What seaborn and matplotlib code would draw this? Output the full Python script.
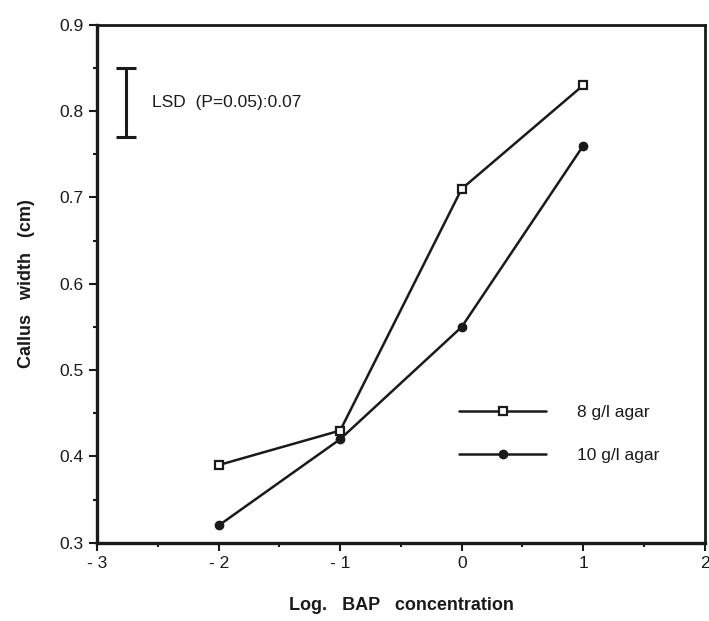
import matplotlib
matplotlib.use("Agg")
import matplotlib.pyplot as plt
import seaborn as sns
import pandas as pd
from matplotlib.lines import Line2D

# Callus width against log BAP concentration for two agar levels
log_bap = [-2, -1, 0, 1]
agar_8 = [0.39, 0.43, 0.71, 0.83]
agar_10 = [0.32, 0.42, 0.55, 0.76]
series_names = ["8 g/l agar", "10 g/l agar"]
x_ticks = [-3, -2, -1, 0, 1, 2]
x_tick_labels = ["- 3", "- 2", "- 1", "0", "1", "2"]
y_ticks = [0.3, 0.4, 0.5, 0.6, 0.7, 0.8, 0.9]
lsd_value = 0.07
lsd_center = 0.81

df = pd.DataFrame({
    "x": log_bap * 2,
    "y": agar_8 + agar_10,
    "series": [series_names[0]] * len(log_bap) + [series_names[1]] * len(log_bap),
})

sns.set_style("white")
plt.rcParams["font.family"] = ["Liberation Sans", "DejaVu Sans"]
ink = "#1a1a1a"

fig = plt.figure(figsize=(7.09, 6.21), dpi=100)
ax = fig.add_axes([0.137, 0.126, 0.857, 0.834])

sns.lineplot(
    data=df, x="x", y="y", hue="series", style="series",
    palette=[ink, ink], markers=["s", "o"], dashes=False,
    markersize=6, linewidth=1.8, ax=ax, legend=False,
)
# open squares for 8 g/l, filled circles for 10 g/l
ax.lines[0].set_markerfacecolor("white")
ax.lines[0].set_markeredgecolor(ink)
ax.lines[0].set_markeredgewidth(1.6)
ax.lines[1].set_markerfacecolor(ink)
ax.lines[1].set_markeredgecolor(ink)
ax.lines[1].set_markeredgewidth(1.0)

ax.set_xlim(-3, 2)
ax.set_ylim(0.3, 0.9)
ax.set_xticks(x_ticks)
ax.set_xticklabels(x_tick_labels)
ax.set_xticks([-2.5, -1.5, -0.5, 0.5, 1.5], minor=True)
ax.set_yticks(y_ticks)
ax.set_yticklabels([f"{v:.1f}" for v in y_ticks])
ax.set_yticks([0.35, 0.45, 0.55, 0.65, 0.75, 0.85], minor=True)
ax.tick_params(axis="both", which="major", direction="out", length=6, width=1.5,
               labelsize=12.5, bottom=True, left=True, color=ink, labelcolor=ink)
ax.tick_params(axis="both", which="minor", direction="out", length=3, width=1.5,
               bottom=True, left=True, color=ink)

for side in ["left", "bottom"]:
    ax.spines[side].set_linewidth(2.4)
for side in ["top", "right"]:
    ax.spines[side].set_linewidth(2.0)
for sp in ax.spines.values():
    sp.set_color(ink)

ax.set_xlabel("Log.   BAP   concentration", fontsize=13, fontweight="bold",
              labelpad=19, color=ink)
ax.set_ylabel("Callus   width   (cm)", fontsize=13, fontweight="bold",
              labelpad=18, color=ink)

# LSD bar
ax.errorbar([-2.76], [lsd_center], yerr=[[lsd_value / 2 + 0.005], [lsd_value / 2 + 0.005]],
            fmt="none", ecolor=ink, elinewidth=2.2, capsize=7, capthick=2.2)
ax.text(-2.55, lsd_center, f"LSD  (P=0.05):{lsd_value:.2f}", fontsize=12.5,
        va="center", ha="left", color=ink)

# legend: line with the series marker in the middle
handles = [
    Line2D([], [], color=ink, lw=1.8, marker="s", markersize=6,
           markerfacecolor="white", markeredgecolor=ink, markeredgewidth=1.6),
    Line2D([], [], color=ink, lw=1.8, marker="o", markersize=6,
           markerfacecolor=ink, markeredgecolor=ink),
]
ax.legend(handles, series_names, loc="center left", bbox_to_anchor=(0.57, 0.21),
          frameon=False, fontsize=12.5, handlelength=5.0, handletextpad=1.8,
          labelspacing=1.6, labelcolor=ink)

fig.savefig("out.png", dpi=100)
